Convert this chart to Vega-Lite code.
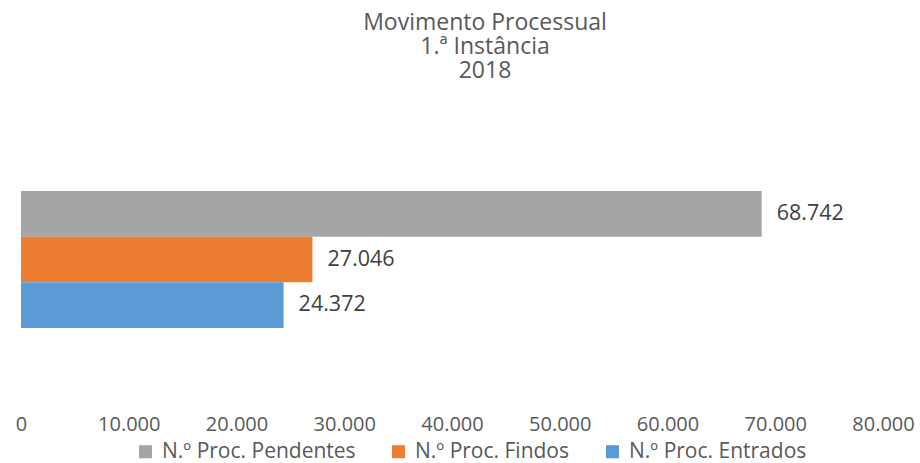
{
  "$schema": "https://vega.github.io/schema/vega-lite/v6.json",
  "autosize": {"type": "none"},
  "width": 862,
  "height": 137,
  "padding": {"left": 21, "top": 191, "right": 37, "bottom": 135},
  "background": "white",
  "config": {
    "view": {"stroke": null},
    "font": "Open Sans"
  },
  "title": {
    "text": ["Movimento Processual", "1.ª Instância", "2018"],
    "fontSize": 23,
    "fontWeight": "normal",
    "color": "#595959",
    "lineHeight": 24,
    "anchor": "middle",
    "offset": 108,
    "dx": 33
  },
  "data": {
    "values": [
      {"serie": "N.º Proc. Pendentes", "valor": 68742, "rotulo": "68.742"},
      {"serie": "N.º Proc. Findos", "valor": 27046, "rotulo": "27.046"},
      {"serie": "N.º Proc. Entrados", "valor": 24372, "rotulo": "24.372"}
    ]
  },
  "encoding": {
    "y": {
      "field": "serie",
      "type": "nominal",
      "sort": ["N.º Proc. Pendentes", "N.º Proc. Findos", "N.º Proc. Entrados"],
      "scale": {"paddingInner": 0, "paddingOuter": 0},
      "axis": null
    },
    "x": {
      "field": "valor",
      "type": "quantitative",
      "scale": {"domain": [0, 80000], "nice": false, "zero": true},
      "axis": {
        "values": [0, 10000, 20000, 30000, 40000, 50000, 60000, 70000, 80000],
        "labelExpr": "replace(format(datum.value, ',d'), ',', '.')",
        "domain": false,
        "ticks": false,
        "grid": false,
        "labelFlush": false,
        "labelOverlap": false,
        "labelPadding": 86,
        "labelFontSize": 20,
        "labelColor": "#595959",
        "labelFont": "Open Sans",
        "title": null
      }
    }
  },
  "layer": [
    {
      "mark": {"type": "bar"},
      "encoding": {
        "color": {
          "field": "serie",
          "type": "nominal",
          "scale": {
            "domain": ["N.º Proc. Pendentes", "N.º Proc. Findos", "N.º Proc. Entrados"],
            "range": ["#A5A5A5", "#ED7D31", "#5B9BD5"]
          },
          "legend": {
            "title": null,
            "orient": "none",
            "direction": "horizontal",
            "legendX": 114,
            "legendY": 250,
            "symbolType": "square",
            "symbolSize": 170,
            "symbolStrokeWidth": 0,
            "symbolOpacity": 1,
            "labelFontSize": 21,
            "labelColor": "#595959",
            "labelFont": "Open Sans",
            "labelOffset": 6,
            "columnPadding": 32,
            "labelLimit": 400
          }
        }
      }
    },
    {
      "mark": {"type": "text", "align": "left", "baseline": "middle", "dx": 15, "fontSize": 21.5, "color": "#404040"},
      "encoding": {
        "text": {"field": "rotulo"}
      }
    }
  ]
}
